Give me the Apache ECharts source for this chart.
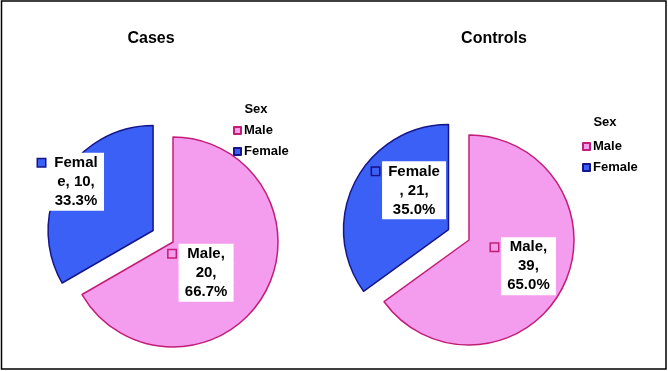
<!DOCTYPE html>
<html><head><meta charset="utf-8">
<script src="https://cdn.jsdelivr.net/npm/echarts@6/dist/echarts.min.js"></script>
<style>html,body{margin:0;padding:0;background:#fff}#c{width:668px;height:371px}</style>
</head><body><div id="c"></div>
<script>
// ---- data ----
const categories = ['Male', 'Female'];
const casesValues = [20, 10];
const controlsValues = [39, 21];
const chartTitles = ['Cases', 'Controls'];
const legendTitle = 'Sex';

// ---- styles ----
const fills = ['#F49CEE', '#3A60F5'];
const borders = ['#C21E78', '#16168A'];

const ctx = document.createElement('canvas').getContext('2d');
ctx.font = 'bold 15px "Liberation Sans", Arial';
const tw = s => ctx.measureText(s).width;

// greedy wrap, breaking long words by characters (like the original software)
function wrap(text, maxW) {
  const tokens = text.split(' ');
  const lines = [];
  let cur = '';
  tokens.forEach(tok => {
    const cand = cur ? cur + ' ' + tok : tok;
    if (tw(cand) <= maxW) { cur = cand; return; }
    if (cur && tw(tok) <= maxW) { lines.push(cur); cur = tok; return; }
    let rest = cur ? cur + ' ' + tok : tok;
    cur = '';
    let line = '';
    for (const ch of rest) {
      if (tw(line + ch) > maxW && line) { lines.push(line); line = ch.trim() ? ch : ''; }
      else line += ch;
    }
    cur = line;
  });
  if (cur) lines.push(cur);
  return lines;
}

const wrapW = [48, 53];
const labelOffsets = [
  [[-20, 3], [-34, -21]],
  [[5, 1], [10, -14]]
];

function makeSeries(values, si, center) {
  const total = values.reduce((a, b) => a + b, 0);
  return {
    type: 'pie',
    center: center,
    radius: 105,
    startAngle: 90,
    clockwise: true,
    selectedMode: 'single',
    selectedOffset: 23,
    silent: true,
    animation: false,
    data: categories.map((c, i) => {
      const pct = (values[i] / total * 100).toFixed(1);
      const lines = wrap(c + ', ' + values[i] + ', ' + pct + '%', wrapW[si]);
      const boxW = Math.ceil(Math.max.apply(null, lines.map(tw))) + 12;
      const rich = {
        m: { width: 7, height: 7, backgroundColor: fills[i], borderColor: borders[i], borderWidth: 1.5 },
        g: { width: 10, height: 8 },
        s: { width: 3, height: 8 },
        t: { width: boxW, height: 20, lineHeight: 19, align: 'center', backgroundColor: '#fff',
             fontFamily: 'Arial, "Liberation Sans", sans-serif', fontWeight: 'bold', fontSize: 15, color: '#000' }
      };
      const str = lines.map((l, k) => (k === 0 ? '{m|}{s|}' : '{g|}') + '{t|' + l + '}').join('\n');
      return {
        name: c, value: values[i], selected: i === 1,
        itemStyle: { color: fills[i], borderColor: borders[i], borderWidth: 1.5 },
        label: { show: true, position: 'inside', formatter: str, rich: rich, lineHeight: 19 }
      };
    }),
    labelLine: { show: false },
    labelLayout: function (p) {
      const o = labelOffsets[si][p.dataIndex];
      return { dx: o[0], dy: o[1] };
    }
  };
}

const chart = echarts.init(document.getElementById('c'), null, { renderer: 'canvas' });
const legendCommon = {
  orient: 'vertical', icon: 'rect', itemWidth: 7, itemHeight: 7, itemGap: 8,
  selectedMode: false, data: categories,
  textStyle: { fontFamily: 'Arial, "Liberation Sans", sans-serif', fontWeight: 'bold', fontSize: 13, color: '#000', padding: [0, 0, 0, -2] }
};
const titleStyle = { fontFamily: 'Arial, "Liberation Sans", sans-serif', fontWeight: 'bold', fontSize: 16, color: '#000' };
const legTitleStyle = { fontFamily: 'Arial, "Liberation Sans", sans-serif', fontWeight: 'bold', fontSize: 13, color: '#000' };
chart.setOption({
  backgroundColor: '#fff',
  title: [
    { text: chartTitles[0], left: 146, top: 26, textAlign: 'center', textStyle: titleStyle },
    { text: chartTitles[1], left: 489, top: 26, textAlign: 'center', textStyle: titleStyle },
    { text: legendTitle, left: 256, top: 103, textAlign: 'center', padding: 0, textStyle: legTitleStyle },
    { text: legendTitle, left: 605, top: 116, textAlign: 'center', padding: 0, textStyle: legTitleStyle }
  ],
  legend: [
    Object.assign({ left: 233, top: 124, padding: 0 }, legendCommon),
    Object.assign({ left: 582, top: 140, padding: 0 }, legendCommon)
  ],
  graphic: [{
    type: 'rect', shape: { x: 1.5, y: 1, width: 664.5, height: 368 },
    style: { fill: 'none', stroke: '#000', lineWidth: 1.5 }, z: 100, silent: true
  }],
  series: [
    makeSeries(casesValues, 0, [173, 242]),
    makeSeries(controlsValues, 1, [469, 240])
  ]
});
</script>
</body></html>
